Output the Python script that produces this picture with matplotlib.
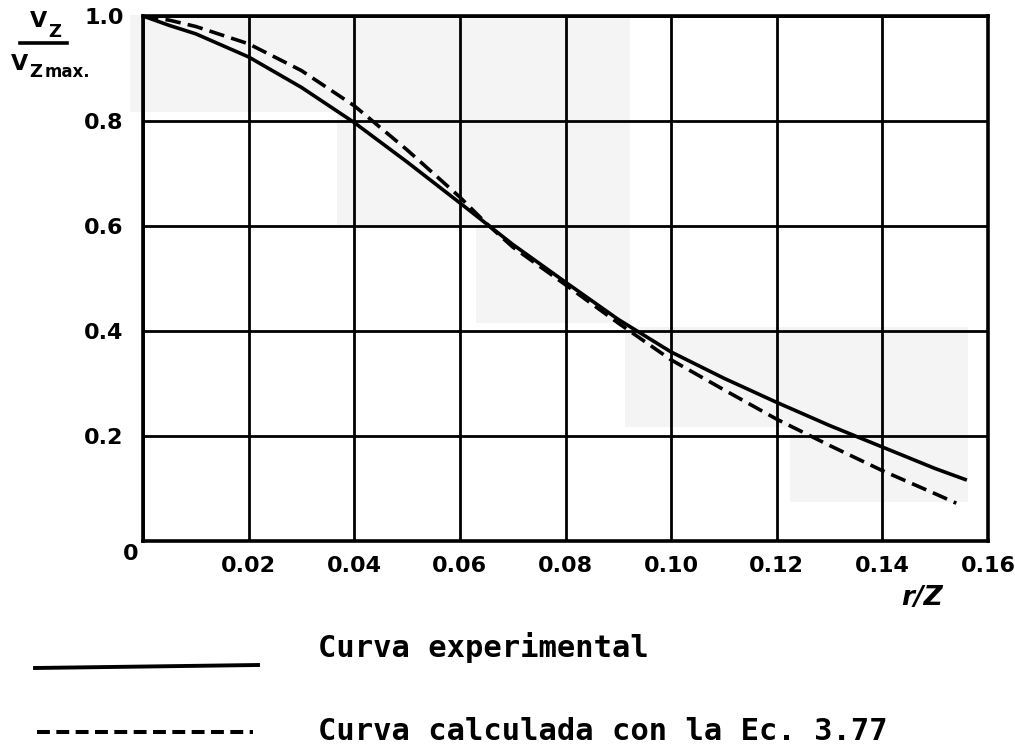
import matplotlib
matplotlib.use("Agg")
import matplotlib.pyplot as plt
from matplotlib.lines import Line2D
from matplotlib.patches import Rectangle

# ---- data ----
r_exp = [0.000, 0.005, 0.010, 0.020, 0.030, 0.040, 0.050, 0.060, 0.070, 0.080,
         0.090, 0.100, 0.110, 0.120, 0.130, 0.140, 0.150, 0.156]
v_exp = [1.000, 0.982, 0.966, 0.922, 0.864, 0.797, 0.722, 0.644, 0.565, 0.493,
         0.422, 0.360, 0.310, 0.264, 0.220, 0.179, 0.138, 0.116]

r_calc = [0.000, 0.005, 0.010, 0.020, 0.030, 0.040, 0.050, 0.060, 0.065, 0.070,
          0.080, 0.090, 0.100, 0.110, 0.120, 0.130, 0.140, 0.150, 0.154]
v_calc = [1.000, 0.992, 0.980, 0.947, 0.896, 0.829, 0.745, 0.655, 0.605, 0.560,
          0.488, 0.415, 0.345, 0.288, 0.232, 0.182, 0.134, 0.090, 0.072]

x_ticks = [0.02, 0.04, 0.06, 0.08, 0.10, 0.12, 0.14, 0.16]
x_tick_labels = ["0.02", "0.04", "0.06", "0.08", "0.10", "0.12", "0.14", "0.16"]
y_ticks = [0.2, 0.4, 0.6, 0.8, 1.0]
y_tick_labels = ["0.2", "0.4", "0.6", "0.8", "1.0"]

legend_labels = ["Curva experimental", "Curva calculada con la Ec. 3.77"]
x_label = "r/Z"

W, H = 1015, 745
fig = plt.figure(figsize=(W / 100, H / 100), dpi=100)
fig.patch.set_facecolor("white")


def fx(px):
    return px / W


def fy(py):
    return 1 - py / H


# faint scan-shading patches (background decoration, behind everything)
shade = "#f4f4f4"
for (x0, y0, x1, y1) in [(130, 15, 630, 112), (337, 112, 630, 227),
                         (476, 227, 630, 323), (625, 327, 968, 427),
                         (790, 427, 968, 502)]:
    fig.patches.append(Rectangle((fx(x0), fy(y1)), fx(x1) - fx(x0), fy(y0) - fy(y1),
                                 transform=fig.transFigure, facecolor=shade,
                                 edgecolor="none", zorder=-10))

ax = fig.add_axes([fx(143), fy(541), fx(988) - fx(143), fy(16) - fy(541)])
ax.set_zorder(1)
ax.set_facecolor("none")
ax.set_xlim(0, 0.16)
ax.set_ylim(0, 1.0)

ax.set_xticks([0.0] + x_ticks)
ax.set_xticklabels([""] + x_tick_labels)
ax.set_yticks([0.0] + y_ticks)
ax.set_yticklabels([""] + y_tick_labels)
ax.tick_params(axis="both", length=0, labelsize=16)
ax.tick_params(axis="x", pad=11)
ax.tick_params(axis="y", pad=14)
for lab in ax.get_xticklabels() + ax.get_yticklabels():
    lab.set_fontweight("bold")

ax.grid(True, color="black", linewidth=2.0)
ax.set_axisbelow(True)
for s in ax.spines.values():
    s.set_linewidth(2.6)
    s.set_color("black")

ax.plot(r_exp, v_exp, color="black", linewidth=2.6, solid_capstyle="butt")
ax.plot(r_calc, v_calc, color="black", linewidth=2.6, dashes=(4.3, 2.0))

# origin label
ax.annotate("0", xy=(0, 0), xytext=(-9, -9), textcoords="offset points",
            ha="center", va="center", fontsize=16, fontweight="bold")

# x axis label
fig.text(fx(922), fy(598), x_label, ha="center", va="center",
         fontsize=19, fontweight="bold", style="italic")

# y axis label as fraction  V_Z / V_Z max.
fig.text(fx(30), fy(27), "V", ha="left", va="baseline", fontsize=16, fontweight="bold")
fig.text(fx(48), fy(37), "Z", ha="left", va="baseline", fontsize=13, fontweight="bold")
fig.add_artist(Line2D([fx(20), fx(67)], [fy(43), fy(43)], color="black",
                      linewidth=2.6, transform=fig.transFigure))
fig.text(fx(11), fy(70), "V", ha="left", va="baseline", fontsize=16, fontweight="bold")
fig.text(fx(29), fy(77), "Z", ha="left", va="baseline", fontsize=13, fontweight="bold")
fig.text(fx(45), fy(77), "max.", ha="left", va="baseline", fontsize=12, fontweight="bold")

# legend (drawn below the plot as in the reference)
fig.add_artist(Line2D([fx(35), fx(258)], [fy(668), fy(665)], color="black",
                      linewidth=2.8, transform=fig.transFigure))
fig.add_artist(Line2D([fx(37), fx(253)], [fy(732), fy(732)], color="black",
                      linewidth=2.9, dashes=(3.2, 1.6), transform=fig.transFigure))
fig.text(fx(318), fy(657), legend_labels[0], ha="left", va="baseline",
         fontsize=22, family="DejaVu Sans Mono", fontweight="bold")
fig.text(fx(318), fy(740), legend_labels[1], ha="left", va="baseline",
         fontsize=22, family="DejaVu Sans Mono", fontweight="bold")

fig.savefig("out.png", dpi=100, facecolor="white")
